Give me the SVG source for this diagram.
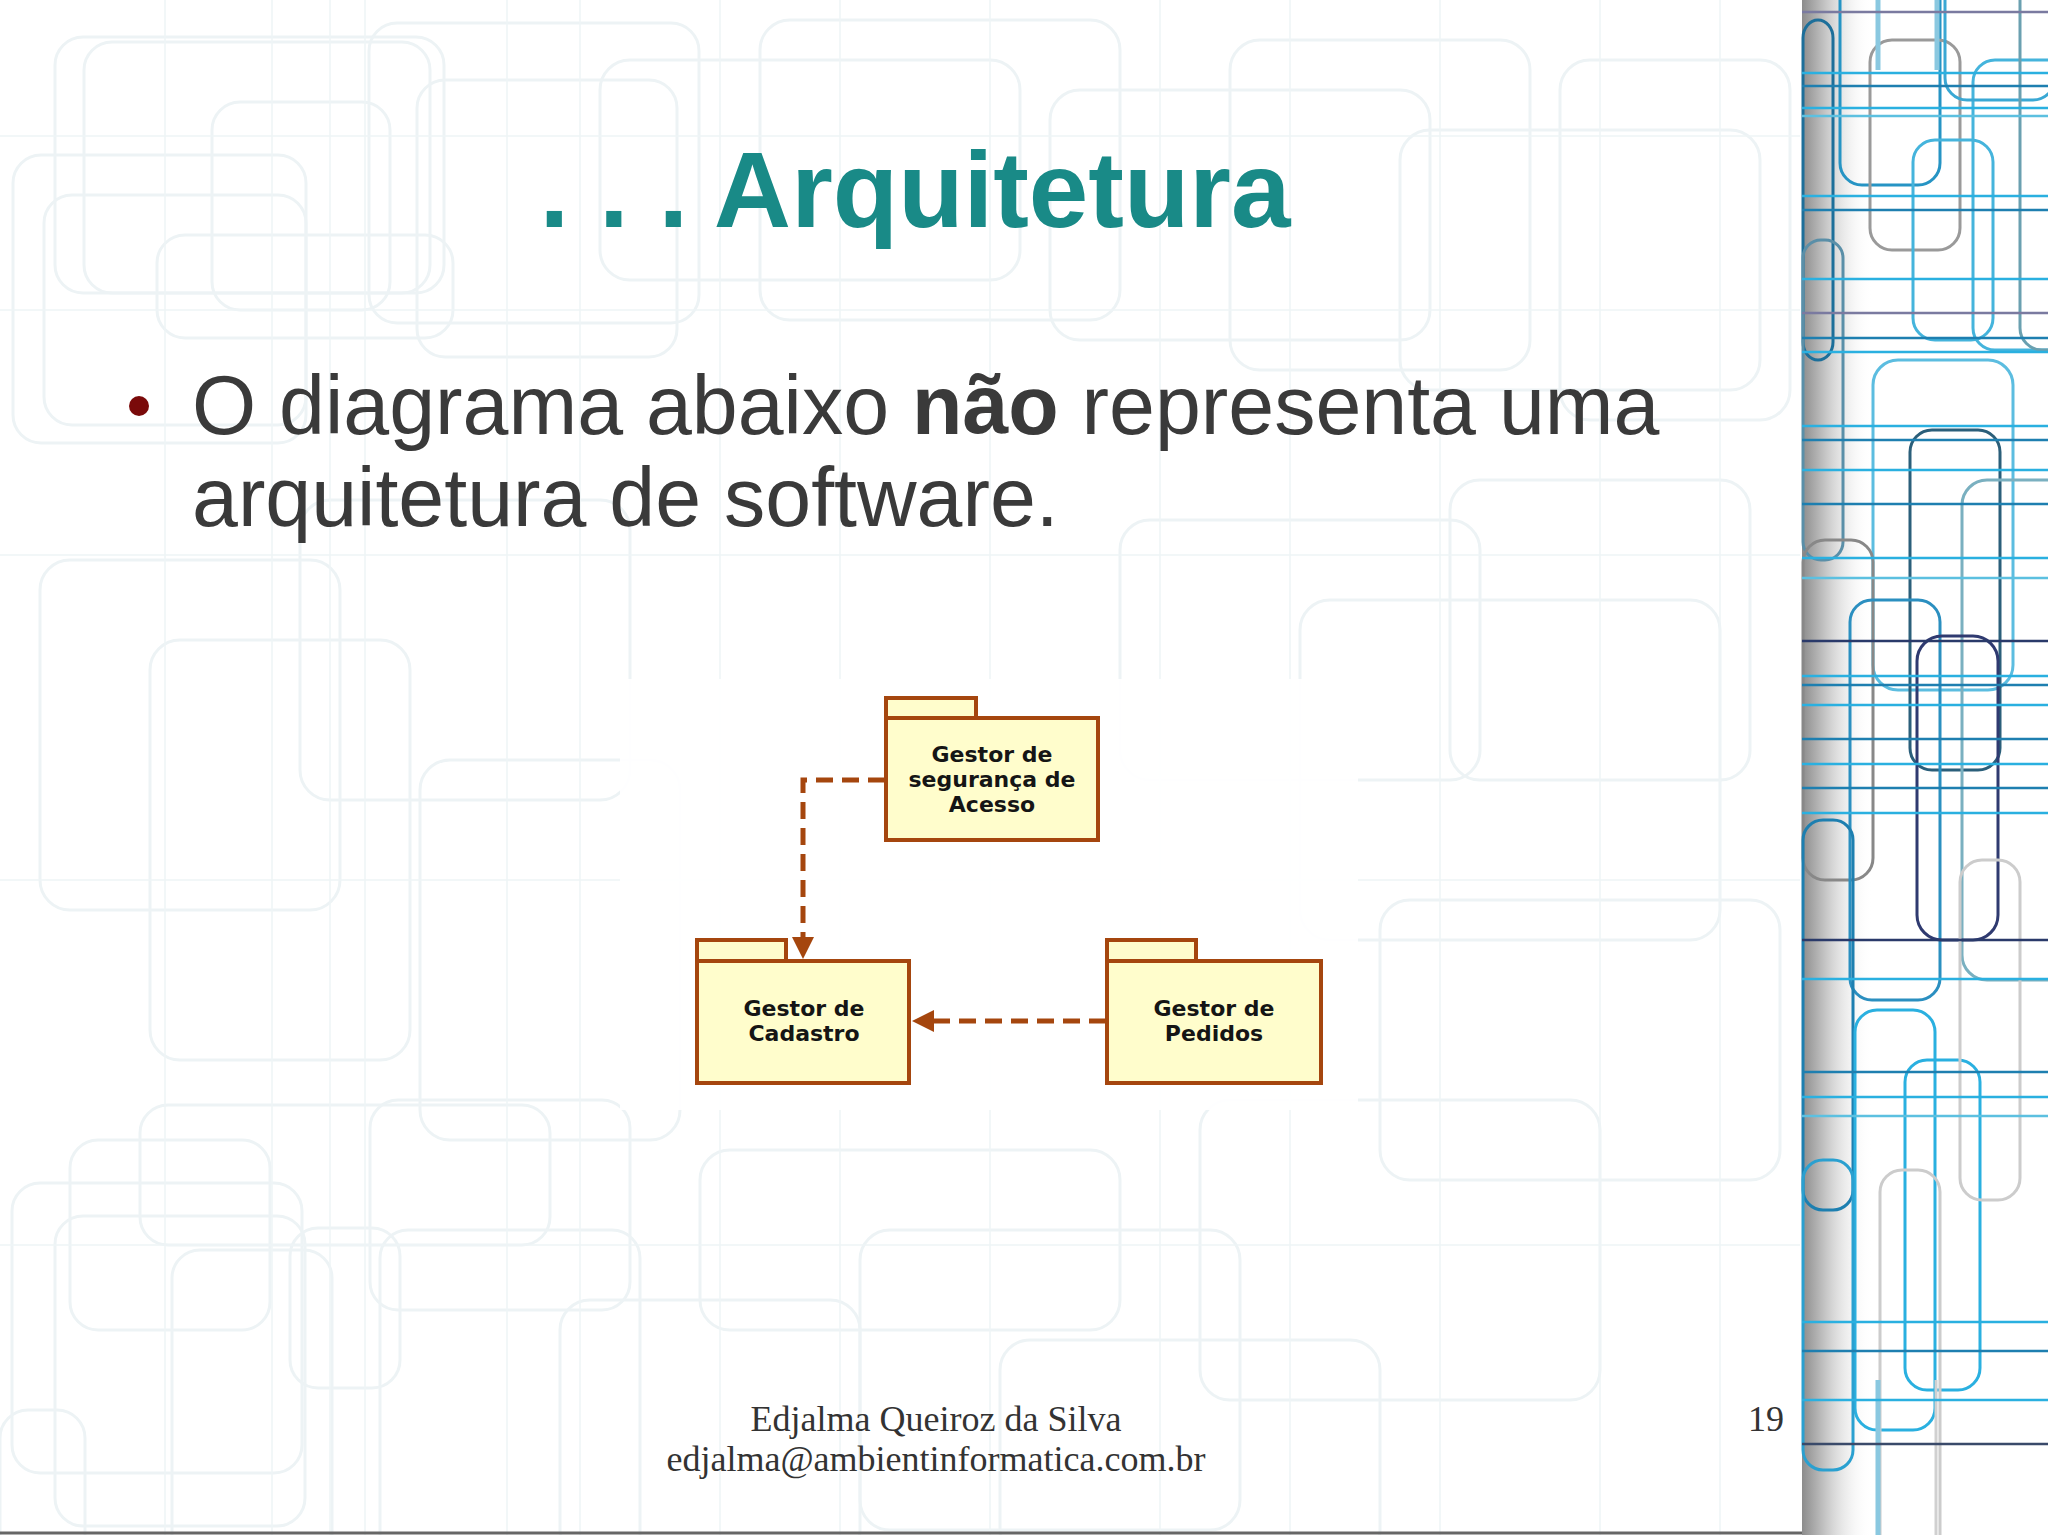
<svg xmlns="http://www.w3.org/2000/svg" width="2048" height="1535" viewBox="0 0 2048 1535">
<defs>
<style>
.bg{fill:none;stroke:#edf3f5;stroke-width:3}
.bv{stroke:#eef4f6;stroke-width:1.5}
.pkg{fill:#FFFDCC;stroke:#A5460E;stroke-width:4}
.lbl{font-family:"DejaVu Sans",Verdana,sans-serif;font-weight:bold;font-size:22px;fill:#151515;text-anchor:middle}
.dep{fill:none;stroke:#A5460E;stroke-width:5;stroke-dasharray:17 9}
.head{fill:#A5460E}
.sl{fill:none;stroke-width:3}
.hl{stroke-width:2.5}
</style>
<linearGradient id="shadow" x1="0" y1="0" x2="1" y2="0">
<stop offset="0" stop-color="#8c8c8c"/>
<stop offset="0.35" stop-color="#c8c8c8"/>
<stop offset="1" stop-color="#ffffff" stop-opacity="0"/>
</linearGradient>
</defs>
<rect x="0" y="0" width="2048" height="1535" fill="#ffffff"/>
<g id="background-pattern">
<rect class="bg" x="55" y="37" width="389" height="256" rx="28"/>
<rect class="bg" x="84" y="42" width="346" height="251" rx="28"/>
<rect class="bg" x="13" y="155" width="293" height="288" rx="28"/>
<rect class="bg" x="212" y="102" width="178" height="208" rx="28"/>
<rect class="bg" x="157" y="235" width="296" height="103" rx="28"/>
<rect class="bg" x="369" y="23" width="330" height="300" rx="28"/>
<rect class="bg" x="417" y="80" width="260" height="277" rx="28"/>
<rect class="bg" x="44" y="195" width="262" height="230" rx="28"/>
<rect class="bg" x="600" y="60" width="420" height="220" rx="30"/>
<rect class="bg" x="760" y="20" width="360" height="300" rx="30"/>
<rect class="bg" x="1050" y="90" width="380" height="250" rx="30"/>
<rect class="bg" x="1230" y="40" width="300" height="330" rx="30"/>
<rect class="bg" x="1400" y="130" width="360" height="260" rx="30"/>
<rect class="bg" x="1560" y="60" width="230" height="360" rx="30"/>
<rect class="bg" x="40" y="560" width="300" height="350" rx="30"/>
<rect class="bg" x="150" y="640" width="260" height="420" rx="30"/>
<rect class="bg" x="300" y="500" width="330" height="300" rx="30"/>
<rect class="bg" x="420" y="760" width="260" height="380" rx="30"/>
<rect class="bg" x="1120" y="520" width="360" height="260" rx="30"/>
<rect class="bg" x="1300" y="600" width="420" height="340" rx="30"/>
<rect class="bg" x="1450" y="480" width="300" height="300" rx="30"/>
<rect class="bg" x="1380" y="900" width="400" height="280" rx="30"/>
<rect class="bg" x="1200" y="1100" width="400" height="300" rx="30"/>
<rect class="bg" x="12" y="1183" width="290" height="290" rx="28"/>
<rect class="bg" x="70" y="1140" width="200" height="190" rx="28"/>
<rect class="bg" x="140" y="1105" width="410" height="140" rx="28"/>
<rect class="bg" x="55" y="1216" width="250" height="310" rx="28"/>
<rect class="bg" x="172" y="1250" width="160" height="330" rx="28"/>
<rect class="bg" x="290" y="1228" width="110" height="160" rx="28"/>
<rect class="bg" x="370" y="1100" width="260" height="210" rx="28"/>
<rect class="bg" x="380" y="1230" width="260" height="340" rx="28"/>
<rect class="bg" x="0" y="1410" width="85" height="250" rx="28"/>
<rect class="bg" x="700" y="1150" width="420" height="180" rx="30"/>
<rect class="bg" x="860" y="1230" width="380" height="300" rx="30"/>
<rect class="bg" x="560" y="1300" width="300" height="260" rx="30"/>
<rect class="bg" x="1000" y="1340" width="380" height="220" rx="30"/>
<line class="bv" x1="165" y1="0" x2="165" y2="1535"/>
<line class="bv" x1="272" y1="0" x2="272" y2="1535"/>
<line class="bv" x1="330" y1="0" x2="330" y2="1535"/>
<line class="bv" x1="365" y1="0" x2="365" y2="1535"/>
<line class="bv" x1="507" y1="0" x2="507" y2="1535"/>
<line class="bv" x1="580" y1="0" x2="580" y2="1535"/>
<line class="bv" x1="720" y1="0" x2="720" y2="1535"/>
<line class="bv" x1="840" y1="0" x2="840" y2="1535"/>
<line class="bv" x1="990" y1="0" x2="990" y2="1535"/>
<line class="bv" x1="1160" y1="0" x2="1160" y2="1535"/>
<line class="bv" x1="1290" y1="0" x2="1290" y2="1535"/>
<line class="bv" x1="1440" y1="0" x2="1440" y2="1535"/>
<line class="bv" x1="1600" y1="0" x2="1600" y2="1535"/>
<line class="bv" x1="1720" y1="0" x2="1720" y2="1535"/>
<line class="bv" x1="0" y1="136" x2="1800" y2="136"/>
<line class="bv" x1="0" y1="310" x2="1800" y2="310"/>
<line class="bv" x1="0" y1="555" x2="1800" y2="555"/>
<line class="bv" x1="0" y1="880" x2="1800" y2="880"/>
<line class="bv" x1="0" y1="1245" x2="1800" y2="1245"/>
</g>
<g id="right-strip">
<rect x="1802" y="0" width="70" height="1535" fill="url(#shadow)"/>
<rect class="sl" x="1840" y="-30" width="100" height="215" rx="22" stroke="#2694c4"/>
<rect class="sl" x="1870" y="40" width="90" height="210" rx="22" stroke="#9a9a9a"/>
<rect class="sl" x="1913" y="140" width="80" height="200" rx="22" stroke="#45b4dc" stroke-width="5"/>
<rect class="sl" x="1973" y="60" width="95" height="290" rx="22" stroke="#45b4dc" stroke-width="5"/>
<rect class="sl" x="1945" y="-30" width="110" height="130" rx="22" stroke="#3aa8d4"/>
<rect class="sl" x="2020" y="-30" width="60" height="380" rx="22" stroke="#6aa0b0" stroke-width="5"/>
<rect class="sl" x="1803" y="20" width="30" height="340" rx="18" stroke="#1d6f9a"/>
<rect class="sl" x="1803" y="240" width="40" height="320" rx="18" stroke="#5a8fa8" stroke-width="5"/>
<rect class="sl" x="1873" y="360" width="140" height="330" rx="25" stroke="#5cbde0" stroke-width="6"/>
<rect class="sl" x="1910" y="430" width="90" height="340" rx="22" stroke="#2b5f7a" stroke-width="2"/>
<rect class="sl" x="1962" y="480" width="120" height="500" rx="25" stroke="#7ab0c0" stroke-width="5"/>
<rect class="sl" x="1803" y="540" width="70" height="340" rx="22" stroke="#888888" stroke-width="2"/>
<rect class="sl" x="1850" y="600" width="90" height="400" rx="22" stroke="#2b8fc0"/>
<rect class="sl" x="1917" y="636" width="81" height="304" rx="25" stroke="#2f3a70" stroke-width="2.5"/>
<rect class="sl" x="1803" y="820" width="50" height="390" rx="20" stroke="#1d7fb0"/>
<rect class="sl" x="1855" y="1010" width="80" height="420" rx="22" stroke="#2ab0e0"/>
<rect class="sl" x="1905" y="1060" width="75" height="330" rx="22" stroke="#2ab0e0"/>
<rect class="sl" x="1960" y="860" width="60" height="340" rx="22" stroke="#cccccc" stroke-width="2"/>
<rect class="sl" x="1880" y="1170" width="60" height="400" rx="22" stroke="#cccccc" stroke-width="2"/>
<rect class="sl" x="1803" y="1160" width="50" height="310" rx="20" stroke="#2aa0d0" stroke-width="2"/>
<line x1="1878" y1="0" x2="1878" y2="70" stroke="#8ac8e0" stroke-width="5"/>
<line x1="1937" y1="0" x2="1937" y2="70" stroke="#8ac8e0" stroke-width="5"/>
<line x1="1878" y1="1380" x2="1878" y2="1535" stroke="#8ac8e0" stroke-width="5"/>
<line x1="1936" y1="1380" x2="1936" y2="1535" stroke="#d0d0d0" stroke-width="3"/>
<line class="hl" x1="1802" y1="12" x2="2048" y2="12" stroke="#7a7aa0"/>
<line class="hl" x1="1802" y1="73" x2="2048" y2="73" stroke="#2ab0e0"/>
<line class="hl" x1="1802" y1="86" x2="2048" y2="86" stroke="#1e7fb0"/>
<line class="hl" x1="1802" y1="108" x2="2048" y2="108" stroke="#2ab0e0"/>
<line class="hl" x1="1802" y1="116" x2="2048" y2="116" stroke="#5cc0e0"/>
<line class="hl" x1="1802" y1="196" x2="2048" y2="196" stroke="#2ab0e0"/>
<line class="hl" x1="1802" y1="210" x2="2048" y2="210" stroke="#1e7fb0"/>
<line class="hl" x1="1802" y1="279" x2="2048" y2="279" stroke="#2ab0e0"/>
<line class="hl" x1="1802" y1="313" x2="2048" y2="313" stroke="#7a7aa0"/>
<line class="hl" x1="1802" y1="338" x2="2048" y2="338" stroke="#1e7fb0"/>
<line class="hl" x1="1802" y1="352" x2="2048" y2="352" stroke="#2ab0e0"/>
<line class="hl" x1="1802" y1="426" x2="2048" y2="426" stroke="#2ab0e0"/>
<line class="hl" x1="1802" y1="440" x2="2048" y2="440" stroke="#1e7fb0"/>
<line class="hl" x1="1802" y1="470" x2="2048" y2="470" stroke="#2ab0e0"/>
<line class="hl" x1="1802" y1="504" x2="2048" y2="504" stroke="#1e7fb0"/>
<line class="hl" x1="1802" y1="558" x2="2048" y2="558" stroke="#2ab0e0"/>
<line class="hl" x1="1802" y1="578" x2="2048" y2="578" stroke="#5cc0e0"/>
<line class="hl" x1="1802" y1="641" x2="2048" y2="641" stroke="#2a3a6a"/>
<line class="hl" x1="1802" y1="676" x2="2048" y2="676" stroke="#2ab0e0"/>
<line class="hl" x1="1802" y1="685" x2="2048" y2="685" stroke="#1e7fb0"/>
<line class="hl" x1="1802" y1="705" x2="2048" y2="705" stroke="#2ab0e0"/>
<line class="hl" x1="1802" y1="739" x2="2048" y2="739" stroke="#1e7fb0"/>
<line class="hl" x1="1802" y1="764" x2="2048" y2="764" stroke="#2ab0e0"/>
<line class="hl" x1="1802" y1="788" x2="2048" y2="788" stroke="#1e7fb0"/>
<line class="hl" x1="1802" y1="813" x2="2048" y2="813" stroke="#2ab0e0"/>
<line class="hl" x1="1802" y1="940" x2="2048" y2="940" stroke="#2a3a6a"/>
<line class="hl" x1="1802" y1="979" x2="2048" y2="979" stroke="#2ab0e0"/>
<line class="hl" x1="1802" y1="1072" x2="2048" y2="1072" stroke="#1e7fb0"/>
<line class="hl" x1="1802" y1="1097" x2="2048" y2="1097" stroke="#2ab0e0"/>
<line class="hl" x1="1802" y1="1116" x2="2048" y2="1116" stroke="#5cc0e0"/>
<line class="hl" x1="1802" y1="1322" x2="2048" y2="1322" stroke="#2ab0e0"/>
<line class="hl" x1="1802" y1="1351" x2="2048" y2="1351" stroke="#1e7fb0"/>
<line class="hl" x1="1802" y1="1400" x2="2048" y2="1400" stroke="#2ab0e0"/>
<line class="hl" x1="1802" y1="1444" x2="2048" y2="1444" stroke="#3a4a6a"/>
</g>
<line x1="0" y1="1533" x2="1802" y2="1533" stroke="#666666" stroke-width="3"/>
<g id="title">
<text x="915" y="227" font-family="'Liberation Sans',Arial,sans-serif" font-weight="bold" font-size="107" fill="#198A87" text-anchor="middle">. . . Arquitetura</text>
</g>
<g id="bullet">
<circle cx="139" cy="406" r="10" fill="#7A0A0A"/>
<text font-family="'Liberation Sans',Arial,sans-serif" font-size="82.5" fill="#3A3A3A"><tspan x="192" y="434">O diagrama abaixo <tspan font-weight="bold">não</tspan> representa uma</tspan><tspan x="192" y="526">arquitetura de software.</tspan></text>
</g>
<rect x="620" y="679" width="738" height="431" fill="#ffffff" opacity="0.92"/>
<g id="connectors">
<path class="dep" d="M885,780 H803 V940"/>
<polygon class="head" points="792,937 814,937 803,959"/>
<path class="dep" d="M1106,1021 H934"/>
<polygon class="head" points="934,1010 934,1032 912,1021"/>
</g>
<g id="node-seguranca">
<rect class="pkg" x="886" y="698" width="90" height="20"/>
<rect class="pkg" x="886" y="718" width="212" height="122"/>
<text class="lbl" x="992" y="762">Gestor de</text>
<text class="lbl" x="992" y="787">segurança de</text>
<text class="lbl" x="992" y="812">Acesso</text>
</g>
<g id="node-cadastro">
<rect class="pkg" x="697" y="940" width="89" height="21"/>
<rect class="pkg" x="697" y="961" width="212" height="122"/>
<text class="lbl" x="804" y="1016">Gestor de</text>
<text class="lbl" x="804" y="1041">Cadastro</text>
</g>
<g id="node-pedidos">
<rect class="pkg" x="1107" y="940" width="89" height="21"/>
<rect class="pkg" x="1107" y="961" width="214" height="122"/>
<text class="lbl" x="1214" y="1016">Gestor de</text>
<text class="lbl" x="1214" y="1041">Pedidos</text>
</g>
<g id="footer" font-family="'Liberation Serif','Times New Roman',serif" font-size="36" fill="#333333">
<text x="936" y="1431" text-anchor="middle">Edjalma Queiroz da Silva</text>
<text x="936" y="1471" text-anchor="middle">edjalma@ambientinformatica.com.br</text>
<text x="1784" y="1431" text-anchor="end">19</text>
</g>
</svg>
